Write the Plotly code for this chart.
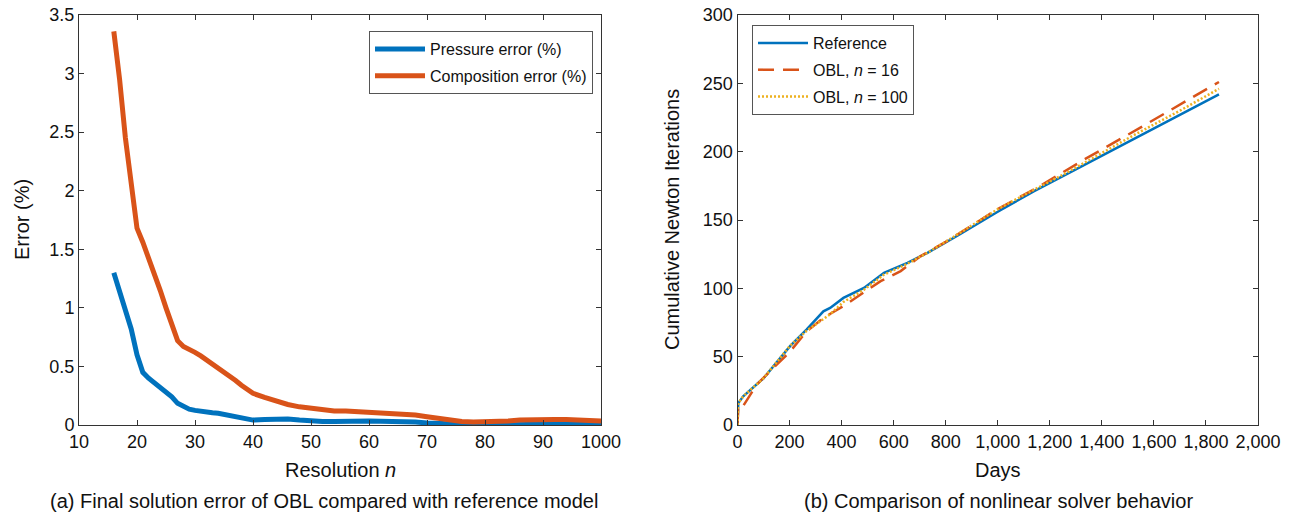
import plotly.graph_objects as go

# ---------- Left panel data ----------
res_n = [16, 17, 18, 19, 20, 21, 22, 23, 24, 25, 26, 27, 28, 29, 30, 31, 32, 33, 34, 35,
         36, 37, 38, 39, 40, 42, 44, 46, 48, 50, 52, 54, 56, 58, 60, 62, 64, 66, 68, 70,
         72, 74, 76, 78, 80, 82, 84, 86, 88, 90, 92, 94, 96, 98, 100]
pressure_err = [1.30, 1.13, 0.98, 0.82, 0.60, 0.45, 0.40, 0.36, 0.32, 0.285, 0.24, 0.185, 0.16, 0.135,
                0.125, 0.115, 0.108, 0.105, 0.10, 0.09, 0.085, 0.075, 0.065, 0.052, 0.042, 0.048,
                0.055, 0.052, 0.042, 0.034, 0.030, 0.030, 0.035, 0.037, 0.035, 0.033, 0.032, 0.030,
                0.025, 0.018, 0.013, 0.007, 0.0, 0.0, 0.0, 0.0, 0.002, 0.005, 0.01, 0.01, 0.01,
                0.01, 0.01, 0.01, 0.008]
composition_err = [3.36, 2.95, 2.45, 2.05, 1.68, 1.56, 1.43, 1.29, 1.15, 1.00, 0.86, 0.72, 0.67, 0.65,
                   0.62, 0.59, 0.555, 0.53, 0.49, 0.45, 0.42, 0.38, 0.34, 0.30, 0.27, 0.235, 0.20,
                   0.175, 0.155, 0.14, 0.125, 0.12, 0.12, 0.115, 0.105, 0.10, 0.095, 0.09, 0.085,
                   0.07, 0.055, 0.045, 0.03, 0.025, 0.025, 0.03, 0.035, 0.043, 0.047, 0.048, 0.048,
                   0.047, 0.045, 0.043, 0.035]
left_tickvals = [10, 20, 30, 40, 50, 60, 70, 80, 90, 100]
left_ticktext = ["10", "20", "30", "40", "50", "60", "70", "80", "90", "1000"]

# ---------- Right panel data ----------
ref_days = [0, 3, 22, 99, 202, 266, 330, 356, 407, 486, 563, 653, 730, 850, 1000, 1138, 1300,
            1522, 1700, 1850]
ref_iters = [0, 16, 21, 34, 57.7, 70, 83.2, 85.7, 93, 100.3, 111.4, 118.7, 126, 139, 156, 171,
             187, 209, 227, 242]
obl16_days = [0, 3, 22, 74, 138, 202, 266, 330, 407, 486, 550, 627, 704, 800, 900, 1000, 1164,
              1330, 1548, 1702, 1850]
obl16_iters = [0, 14, 14, 29.6, 41.8, 53.7, 68.6, 78.4, 87, 96.8, 105.3, 112.6, 123.6, 134, 146,
               158, 175, 194, 217.6, 234.6, 251]
obl100_days = [0, 3, 22, 99, 202, 266, 356, 407, 486, 563, 653, 730, 850, 1000, 1138, 1265, 1522,
               1700, 1850]
obl100_iters = [0, 16, 21, 34, 58, 69, 81, 90, 99, 110, 118, 126, 140, 158, 172, 184.6, 212, 230,
                246]

BLUE = "#0072BD"
ORANGE = "#D95319"
YELLOW = "#EDB120"
FONT = "Arial, Liberation Sans, Helvetica, sans-serif"
W, H = 1289, 514
MT, MB = 15, 89
PH = H - MT - MB


def px_x(px):
    return px / W


def px_y(py):
    return (H - MB - py) / PH


fig = go.Figure()

fig.add_trace(go.Scatter(x=res_n, y=pressure_err, mode="lines", name="Pressure error (%)",
                         line=dict(color=BLUE, width=5), xaxis="x", yaxis="y",
                         legend="legend", legendgroup="a"))
fig.add_trace(go.Scatter(x=res_n, y=composition_err, mode="lines", name="Composition error (%)",
                         line=dict(color=ORANGE, width=5), xaxis="x", yaxis="y",
                         legend="legend", legendgroup="b"))

fig.add_trace(go.Scatter(x=ref_days, y=ref_iters, mode="lines", name="Reference",
                         line=dict(color=BLUE, width=2.5), xaxis="x2", yaxis="y2",
                         legend="legend2", legendgroup="c"))
fig.add_trace(go.Scatter(x=obl16_days, y=obl16_iters, mode="lines", name="OBL, <i>n</i> = 16",
                         line=dict(color=ORANGE, width=2.5, dash="16px,9px"), xaxis="x2", yaxis="y2",
                         legend="legend2", legendgroup="d"))
fig.add_trace(go.Scatter(x=obl100_days, y=obl100_iters, mode="lines", name="OBL, <i>n</i> = 100",
                         line=dict(color=YELLOW, width=2.5, dash="2px,2px"), xaxis="x2", yaxis="y2",
                         legend="legend2", legendgroup="e"))

axis_common = dict(showline=True, mirror="ticks", linecolor="#333333", linewidth=1,
                   ticks="inside", ticklen=5, tickcolor="#333333", showgrid=False,
                   zeroline=False, automargin=False,
                   tickfont=dict(size=18, color="#111111", family=FONT))

legend_common = dict(bordercolor="#555555", borderwidth=1, bgcolor="white",
                     font=dict(size=16, family=FONT, color="#111111"),
                     traceorder="grouped", tracegroupgap=3, itemwidth=50)

title_font = dict(size=20, family=FONT, color="#111111")
cap_font = dict(size=20, family=FONT, color="#111111")

fig.update_layout(
    width=W, height=H,
    margin=dict(l=0, r=0, t=MT, b=MB),
    paper_bgcolor="white", plot_bgcolor="white",
    font=dict(family=FONT, color="#111111"),
    xaxis=dict(domain=[px_x(79), px_x(601)], range=[10, 100], tickvals=left_tickvals,
               ticktext=left_ticktext, anchor="y", **axis_common),
    yaxis=dict(domain=[0, 1], range=[0, 3.5], dtick=0.5, anchor="x", **axis_common),
    xaxis2=dict(domain=[px_x(737.5), px_x(1258)], range=[0, 2000], dtick=200, tickformat=",d",
                anchor="y2", **axis_common),
    yaxis2=dict(domain=[0, 1], range=[0, 300], dtick=50, anchor="x2", **axis_common),
    legend=dict(x=px_x(593), y=px_y(31), xanchor="right", yanchor="top", **legend_common),
    legend2=dict(x=px_x(752), y=px_y(25), xanchor="left", yanchor="top", **legend_common),
    annotations=[
        dict(text="Resolution <i>n</i>", xref="paper", yref="paper", x=px_x(340), y=px_y(470),
             xanchor="center", yanchor="middle", showarrow=False, font=title_font),
        dict(text="Error (%)", xref="paper", yref="paper", x=px_x(22), y=px_y(220),
             xanchor="center", yanchor="middle", showarrow=False, textangle=-90, font=title_font),
        dict(text="Days", xref="paper", yref="paper", x=px_x(998), y=px_y(470),
             xanchor="center", yanchor="middle", showarrow=False, font=title_font),
        dict(text="Cumulative Newton Iterations", xref="paper", yref="paper", x=px_x(672),
             y=px_y(220), xanchor="center", yanchor="middle", showarrow=False, textangle=-90,
             font=title_font),
        dict(text="(a) Final solution error of OBL compared with reference model",
             xref="paper", yref="paper", x=px_x(324), y=px_y(501),
             xanchor="center", yanchor="middle", showarrow=False, font=cap_font),
        dict(text="(b) Comparison of nonlinear solver behavior",
             xref="paper", yref="paper", x=px_x(998), y=px_y(501),
             xanchor="center", yanchor="middle", showarrow=False, font=cap_font),
    ],
)

fig.write_html("out.html", config={"displayModeBar": False},
               post_script="document.body.style.margin='0';document.body.style.overflow='hidden';")
